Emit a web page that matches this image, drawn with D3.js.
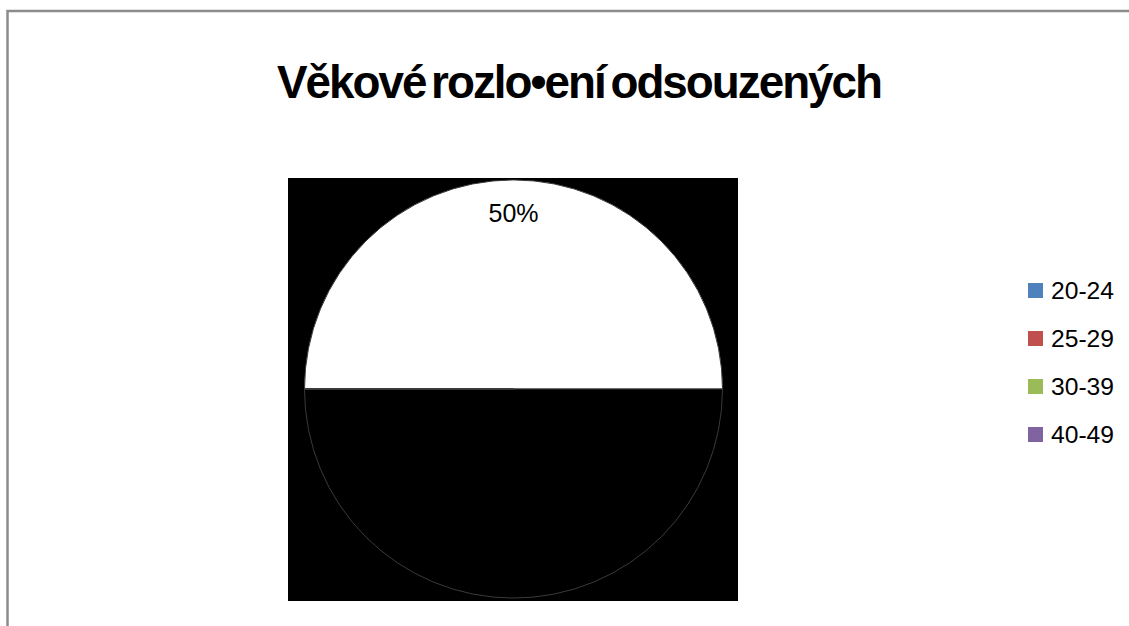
<!DOCTYPE html>
<html>
<head>
<meta charset="utf-8">
<script src="https://cdn.jsdelivr.net/npm/d3@7"></script>
<style>
  html, body { margin: 0; padding: 0; background: #fff; }
  svg { display: block; font-family: "Liberation Sans", Arial, sans-serif; }
</style>
</head>
<body>
<svg id="chart" width="1129" height="626"></svg>
<script>
"use strict";

// Data
const TITLE = "Věkové rozlo•ení odsouzených";
const CATEGORIES = ["20-24", "25-29", "30-39", "40-49"];
const VALUES = [50, 50, 0, 0]; // percent shares
const LEGEND_COLORS = ["#4f81bd", "#c0504d", "#9bbb59", "#8064a2"];
const SLICE_FILLS = ["#ffffff", "#000000", "#000000", "#000000"]; // as rendered

// Dimensions
const W = 1129;
const H = 626;
const PLOT = { x: 288, y: 178, w: 450, h: 423 }; // black plot area
const CX = 513.5;
const CY = 389;
const R = 209;

const svg = d3.select("#chart");

// Outer chart frame (runs off the right and bottom edges)
svg.append("rect")
  .attr("x", 7.5)
  .attr("y", 11)
  .attr("width", W + 20)
  .attr("height", H + 20)
  .attr("fill", "none")
  .attr("stroke", "#8c8c8c")
  .attr("stroke-width", 2.5);

// Title (condensed, tight word gaps)
svg.append("text")
  .attr("x", 277)
  .attr("y", 98)
  .attr("font-size", 46)
  .attr("font-weight", "bold")
  .attr("fill", "#000")
  .attr("word-spacing", -5)
  .attr("letter-spacing", -2)
  .attr("textLength", 604)
  .attr("lengthAdjust", "spacingAndGlyphs")
  .text(TITLE);

// Plot area
svg.append("rect")
  .attr("x", PLOT.x)
  .attr("y", PLOT.y)
  .attr("width", PLOT.w)
  .attr("height", PLOT.h)
  .attr("fill", "#000");

// Pie
const pie = d3.pie()
  .sort(null)
  .startAngle(-Math.PI / 2)
  .endAngle(Math.PI * 1.5)
  .value(function(d) { return d.value; });

const data = CATEGORIES.map(function(c, i) {
  return { cat: c, value: VALUES[i], fill: SLICE_FILLS[i] };
});
const arcs = pie(data);

const arc = d3.arc().innerRadius(0).outerRadius(R);
const labelArc = d3.arc().innerRadius(R * 0.84).outerRadius(R * 0.84);

const gPie = svg.append("g")
  .attr("transform", "translate(" + CX + "," + CY + ")");

gPie.selectAll("path.slice")
  .data(arcs)
  .enter()
  .append("path")
  .classed("slice", true)
  .attr("d", arc)
  .attr("fill", function(d) { return d.data.fill; })
  .attr("stroke", "#3a3a3a")
  .attr("stroke-width", 1);

const total = d3.sum(VALUES);
gPie.selectAll("text.pct")
  .data(arcs.filter(function(d) { return d.data.value > 0; }))
  .enter()
  .append("text")
  .classed("pct", true)
  .attr("x", function(d) { return labelArc.centroid(d)[0]; })
  .attr("y", function(d) { return labelArc.centroid(d)[1]; })
  .attr("text-anchor", "middle")
  .attr("dominant-baseline", "central")
  .attr("font-size", 25)
  .attr("fill", "#000")
  .text(function(d) { return Math.round(d.data.value / total * 100) + "%"; });

// Legend
const legendY = d3.scalePoint()
  .domain(CATEGORIES)
  .range([290, 434]);

const gLegend = svg.append("g").classed("legend", true);
const items = gLegend.selectAll("g.item")
  .data(CATEGORIES)
  .enter()
  .append("g")
  .classed("item", true)
  .attr("transform", function(d) { return "translate(1028," + legendY(d) + ")"; });

items.append("rect")
  .attr("x", 0)
  .attr("y", -7)
  .attr("width", 15)
  .attr("height", 15)
  .attr("fill", function(d, i) { return LEGEND_COLORS[i]; });

items.append("text")
  .attr("x", 23)
  .attr("y", 1)
  .attr("dominant-baseline", "central")
  .attr("font-size", 23)
  .attr("fill", "#000")
  .attr("textLength", 63)
  .attr("lengthAdjust", "spacingAndGlyphs")
  .text(function(d) { return d; });
</script>
</body>
</html>
